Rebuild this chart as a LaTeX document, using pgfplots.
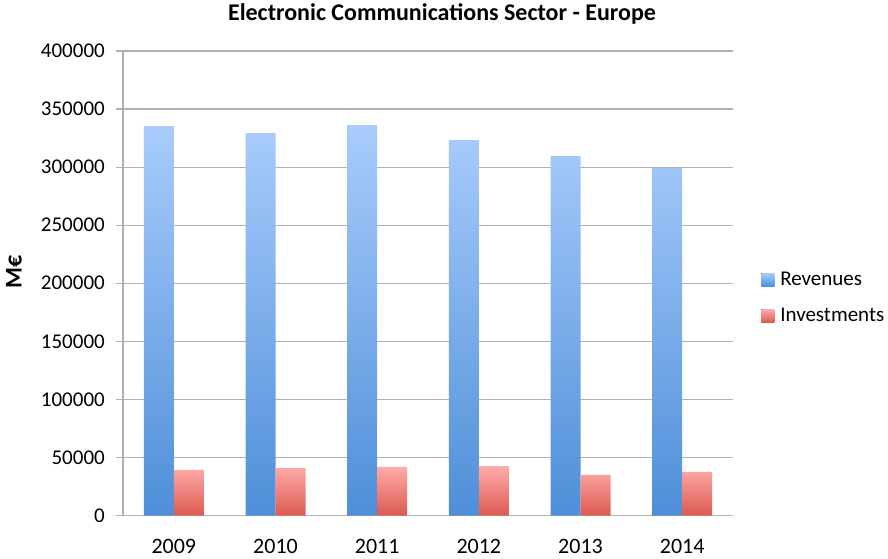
\documentclass[border=0pt]{standalone}
\usepackage{pgfplots}
\pgfplotsset{compat=1.18}
\usepackage{fontspec}
\setmainfont{Carlito}

\definecolor{revtop}{HTML}{A9CCFC}
\definecolor{revbot}{HTML}{4E8FD8}
\definecolor{invtop}{HTML}{FFACAA}
\definecolor{invbot}{HTML}{DC5A50}
\definecolor{gridgray}{HTML}{B0B0B0}

\begin{document}
\begin{tikzpicture}
\useasboundingbox (-123pt,-42.5pt) rectangle (765pt,515.5pt);
\begin{axis}[
    at={(0,0)}, anchor=south west,
    scale only axis,
    width=610pt, height=464.5pt,
    ybar=0pt, bar width=30pt,
    xmin=-0.5, xmax=5.5,
    ymin=0, ymax=400000,
    xtick={0,1,2,3,4,5},
    xticklabels={2009,2010,2011,2012,2013,2014},
    ytick={0,50000,...,400000},
    scaled y ticks=false,
    /pgf/number format/assume math mode=true,
    yticklabel={\pgfmathprintnumber[fixed,1000 sep={}]{\tick}},
    axis lines*=left,
    axis line style={gridgray, line width=1.2pt},
    ymajorgrids,
    grid style={gridgray, line width=1.2pt},
    tick align=outside,
    major tick length=7pt,
    ytick style={gridgray, line width=1.2pt},
    xtick style={draw=none},
    tick label style={font=\fontsize{21}{25}\selectfont},
    xticklabel style={font=\fontsize{22}{26}\selectfont},
    yticklabel style={inner sep=0pt, anchor=east, xshift=-11pt},
    xticklabel style={inner sep=0pt, anchor=north, yshift=-17pt},
    title={Electronic Communications Sector - Europe},
    title style={font=\bfseries\fontsize{24}{28}\selectfont, at={(axis description cs:0.523,1)}, anchor=base, yshift=25pt},
    ylabel={M€},
    ylabel style={font=\bfseries\fontsize{24}{28}\selectfont, at={(axis description cs:0,0.525)}, anchor=south, inner sep=0pt, yshift=101pt},
    legend style={at={(axis description cs:1.046,0.469)}, anchor=west, draw=none, fill=none, inner sep=0pt,
        font=\fontsize{21}{25}\selectfont, row sep=17pt, cells={anchor=west}},
    legend image code/.code={\fill[#1] (0pt,-6.5pt) rectangle (13pt,6.5pt); \path (17pt,0pt);},
]
\addplot[draw=none, top color=revtop, bottom color=revbot] coordinates {
    (0,335400) (1,329300) (2,336200) (3,323300) (4,309500) (5,299400)};
\addplot[draw=none, top color=invtop, bottom color=invbot] coordinates {
    (0,39200) (1,40900) (2,41800) (3,42600) (4,34900) (5,37500)};
\legend{Revenues,Investments}
\end{axis}
\end{tikzpicture}
\end{document}
